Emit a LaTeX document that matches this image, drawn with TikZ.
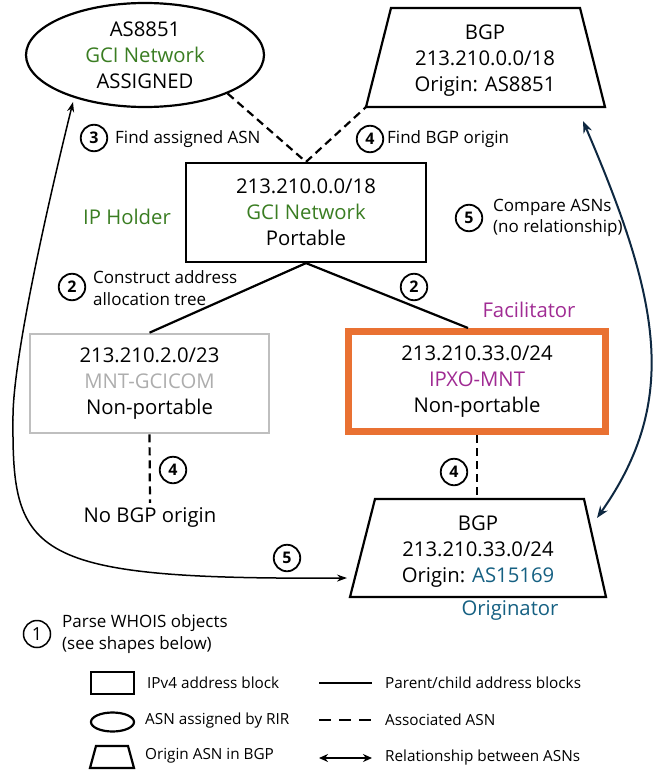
\documentclass[tikz,border=0pt]{standalone}
\usepackage{fontspec}
\setmainfont{Open Sans}
\usetikzlibrary{arrows.meta,shapes.geometric}
\definecolor{gciGreen}{HTML}{3A7D22}
\definecolor{ipxoMag}{HTML}{A02B93}
\definecolor{origBlue}{HTML}{156082}
\definecolor{orangeB}{HTML}{E97132}
\definecolor{grayB}{HTML}{BFBFBF}
\definecolor{grayT}{HTML}{ADADAD}
\definecolor{navyA}{HTML}{0E2841}
\begin{document}
\begin{tikzpicture}[x=1pt,y=-1pt,
  main/.style={font=\fontsize{20.3}{26}\selectfont, align=center, inner sep=0pt},
  block/.style={main, draw, line width=2.2pt, minimum width=240pt, minimum height=99pt},
  lbl/.style={font=\fontsize{17}{21.5}\selectfont, align=left, anchor=west, inner sep=0pt},
  num/.style={circle, draw, line width=1.8pt, minimum size=26.5pt, inner sep=0pt, font=\fontsize{16}{16}\selectfont\bfseries},
  assoc/.style={line width=2.2pt, dash pattern=on 8pt off 5pt},
  tree/.style={line width=2.2pt},
  shapeline/.style={line width=2.2pt, line join=miter},
  leg/.style={font=\fontsize{15.3}{18}\selectfont, anchor=west, inner sep=0pt},
  tipS/.style={Stealth[length=10pt,width=8pt]}]

\useasboundingbox (0,0) rectangle (654,771);

% ---- main shapes ----
\node[main, draw, ellipse, line width=2.2pt, minimum width=238pt, minimum height=104pt] (asn) at (145,55)
  {AS8851\\\textcolor{gciGreen}{GCI Network}\\ASSIGNED};

\coordinate (tbtl) at (391,8);
\coordinate (tbtr) at (580,8);
\coordinate (tbbr) at (605,107);
\coordinate (tbbl) at (366,107);
\draw[shapeline] (tbtl) -- (tbtr) -- (tbbr) -- (tbbl) -- cycle;
\node[main] (bgpa) at (485,61) {BGP\\213.210.0.0/18\\Origin: AS8851};

\node[block] (holder) at (306,212.5)
  {213.210.0.0/18\\\textcolor{gciGreen}{GCI Network}\\Portable};

\node[block, draw=grayB, line width=2.6pt, minimum width=239pt] (mnt) at (149.5,383.5)
  {213.210.2.0/23\\\textcolor{grayT}{MNT-GCICOM}\\Non-portable};

\node[block, draw=orangeB, line width=7pt, minimum width=257pt, minimum height=100pt] (ipxo) at (477,381.5)
  {213.210.33.0/24\\\textcolor{ipxoMag}{IPXO-MNT}\\Non-portable};

\coordinate (bbtl) at (375,499);
\coordinate (bbtr) at (584,499);
\coordinate (bbbr) at (606,597);
\coordinate (bbbl) at (350,597);
\coordinate (bbtop) at (477,499);
\draw[shapeline] (bbtl) -- (bbtr) -- (bbbr) -- (bbbl) -- cycle;
\node[main] (bgpb) at (478,552) {BGP\\213.210.33.0/24\\Origin: \textcolor{origBlue}{AS15169}};

\node[main, inner sep=4pt] (nobgp) at (150,517) {No BGP origin};

% role labels
\node[main, text=gciGreen] (iph) at (127,217) {IP Holder};
\node[main, text=ipxoMag] (fac) at (529,310) {Facilitator};
\node[main, text=origBlue] (ori) at (510,610) {Originator};

% ---- connectors ----
\draw[tree] (holder.south) -- (mnt.north);
\draw[tree] (holder.south) -- ([xshift=-9pt]ipxo.north);
\draw[assoc] (asn.-25) -- (holder.north);
\draw[assoc] (holder.north) -- (tbbl);
\draw[assoc] (mnt.south) -- (nobgp.north);
\draw[assoc] (ipxo.south) -- (bbtop);

\coordinate (navA) at (583,121);
\coordinate (navB) at (597,518);
\draw[navyA, line width=2pt, {Stealth[length=12pt,width=9pt]}-{Stealth[length=12pt,width=9pt]}]
  (navA) .. controls (660,300) and (680,400) .. (navB);

\coordinate (arrB) at (347,578);
\coordinate (arrA) at (73,102);
\coordinate (arrM) at (13,420);
\draw[line width=1.5pt, {Stealth[length=10pt,width=7pt]}-{Stealth[length=10pt,width=7pt]}]
  (arrB) .. controls (30,580) and (12,555) .. (arrM) .. controls (12,360) and (50,195) .. (arrA);

% ---- step markers and labels ----
\node[num] (n3) at (94,138) {3};
\node[lbl] (t3) at (115,139) {Find assigned ASN};
\node[num] (n4a) at (370,139) {4};
\node[lbl] (t4a) at (387,139) {Find BGP origin};
\node[num] (n2a) at (72,287) {2};
\node[lbl] (t2a) at (93,288) {Construct address\\allocation tree};
\node[num] (n2b) at (414,287) {2};
\node[num] (n5a) at (469,218) {5};
\node[lbl] (t5a) at (493,218) {Compare ASNs\\(no relationship)};
\node[num] (n4b) at (173,470) {4};
\node[num] (n4c) at (454,472) {4};
\node[num] (n5b) at (287,558) {5};
\node[circle, draw, line width=1.5pt, minimum size=27pt, inner sep=0pt, font=\fontsize{18}{18}\selectfont] (n1) at (37,634) {1};
\node[lbl] (t1) at (62,634) {Parse WHOIS objects\\(see shapes below)};

% ---- legend ----
\node[draw, line width=2.2pt, minimum width=43pt, minimum height=22pt, inner sep=0pt] (lrect) at (112.5,683) {};
\node[draw, ellipse, line width=2.2pt, minimum width=43pt, minimum height=19pt, inner sep=0pt] (lell) at (112.5,722) {};
\coordinate (ltl) at (96,746);
\coordinate (ltr) at (128,746);
\coordinate (lbr) at (134,768);
\coordinate (lbl) at (90,768);
\draw[shapeline] (ltl) -- (ltr) -- (lbr) -- (lbl) -- cycle;
\node[leg] (lt1) at (147,683) {IPv4 address block};
\node[leg] (lt2) at (145,721) {ASN assigned by RIR};
\node[leg] (lt3) at (145,756) {Origin ASN in BGP};

\coordinate (la1) at (319,683);
\coordinate (lb1) at (372,683);
\coordinate (la2) at (319,720);
\coordinate (lb2) at (372,720);
\coordinate (la3) at (319,758);
\coordinate (lb3) at (372,758);
\draw[tree] (la1) -- (lb1);
\draw[line width=2.2pt, dash pattern=on 12pt off 8pt] (la2) -- (lb2);
\draw[line width=2.2pt, {Stealth[length=9pt,width=8pt]}-{Stealth[length=9pt,width=8pt]}] (la3) -- (lb3);
\node[leg] (lr1) at (385,683) {Parent/child address blocks};
\node[leg] (lr2) at (385,720) {Associated ASN};
\node[leg] (lr3) at (385,758) {Relationship between ASNs};
\end{tikzpicture}
\end{document}
